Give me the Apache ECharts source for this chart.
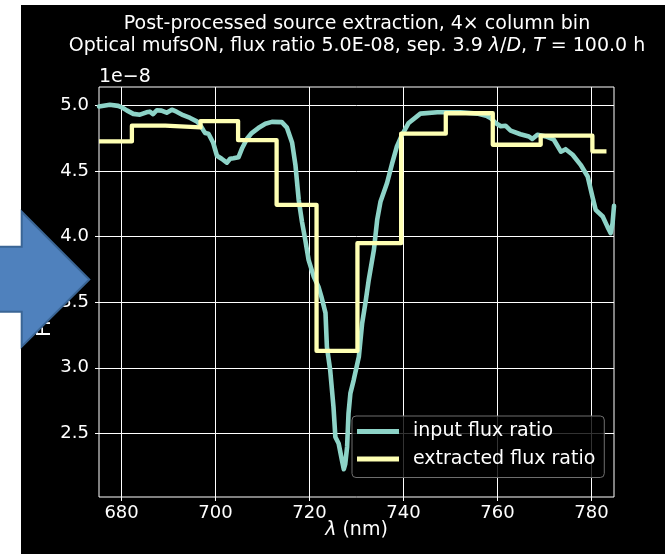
<!DOCTYPE html>
<html>
<head>
<meta charset="utf-8">
<script src="https://cdn.jsdelivr.net/npm/echarts@6/dist/echarts.min.js"></script>
<style>
html,body{margin:0;padding:0;background:#ffffff;}
#chart{width:665px;height:554px;}
</style>
</head>
<body>
<div id="chart"></div>
<script>
// ---- data (flux ratio in units of 1e-8) ----
const inputWavelength = [
 675.2, 677.5, 679.3, 680.3, 681.1, 682.5, 683.9, 685.3, 686.0, 686.7,
 687.5, 688.5, 689.6, 690.7, 691.7, 693.1, 694.6, 696.0, 696.7, 697.4,
 697.8, 698.5, 698.8, 699.5, 700.3, 701.3, 702.4, 703.1, 703.8, 704.9,
 705.6, 706.7, 707.7, 709.1, 710.6, 712.0, 714.1, 715.2, 716.3, 717.0,
 717.7, 718.4, 719.1, 719.8, 720.9, 721.9, 722.6, 723.4, 723.7, 724.4,
 725.1, 725.5, 726.2, 726.9, 727.3, 727.6, 728.0, 728.3, 728.7, 729.4,
 730.5, 731.2, 731.9, 732.6, 733.7, 734.4, 735.1, 736.5, 737.6, 738.6,
 739.7, 741.1, 743.6, 747.2, 752.1, 755.7, 757.8, 758.5, 759.6, 760.7,
 761.7, 762.8, 764.9, 766.7, 767.4, 768.5, 770.3, 772.0, 773.5, 774.5,
 776.0, 777.7, 779.2, 780.2, 780.9, 782.4, 783.4, 784.1, 784.5, 784.8
];
const inputFlux = [
 4.992, 5.005, 4.996, 4.980, 4.962, 4.935, 4.929, 4.947, 4.952, 4.933,
 4.963, 4.960, 4.944, 4.967, 4.952, 4.925, 4.904, 4.878, 4.853, 4.811,
 4.789, 4.784, 4.776, 4.715, 4.616, 4.593, 4.563, 4.593, 4.597, 4.605,
 4.669, 4.746, 4.789, 4.827, 4.860, 4.874, 4.872, 4.830, 4.715, 4.547,
 4.280, 4.112, 3.975, 3.822, 3.695, 3.618, 3.532, 3.418, 3.160, 2.982,
 2.702, 2.473, 2.423, 2.295, 2.227, 2.265, 2.397, 2.652, 2.805, 2.906,
 3.084, 3.339, 3.494, 3.669, 3.898, 4.127, 4.265, 4.408, 4.560, 4.687,
 4.776, 4.866, 4.937, 4.947, 4.947, 4.937, 4.918, 4.904, 4.866, 4.841,
 4.845, 4.807, 4.780, 4.763, 4.744, 4.776, 4.763, 4.738, 4.647, 4.666,
 4.624, 4.547, 4.458, 4.305, 4.204, 4.153, 4.076, 4.026, 4.102, 4.234
];
const binEdges = [675.2, 682.2, 689.3, 696.8, 704.8, 713.0, 721.5, 730.2, 739.5, 749.0, 759.0, 769.2, 780.2, 783.2];
const extractedFlux = [4.725, 4.845, 4.832, 4.880, 4.735, 4.242, 3.128, 3.950, 4.784, 4.940, 4.700, 4.769, 4.650];
const xTicks = [680, 700, 720, 740, 760, 780];
const yTicks = [2.5, 3.0, 3.5, 4.0, 4.5, 5.0];

// ---- build series data ----
const inputData = inputWavelength.map((w, i) => [w, inputFlux[i]]);
const stepData = extractedFlux.map((v, i) => [binEdges[i], v]);
stepData.push([binEdges[binEdges.length - 1], extractedFlux[extractedFlux.length - 1]]);

const FONT = 'DejaVu Sans';
const FS = 19;
const chart = echarts.init(document.getElementById('chart'), null, {renderer: 'canvas'});

const option = {
  backgroundColor: 'transparent',
  animation: false,
  grid: {
    left: 99, top: 87, right: 51, bottom: 57,
    show: true, borderColor: '#ffffff', borderWidth: 1, backgroundColor: 'transparent',
    containLabel: false
  },
  xAxis: {
    type: 'value', min: 675.2, max: 784.8,
    axisLine: {show: false},
    axisTick: {show: true, inside: false, length: 4, lineStyle: {color: '#ffffff', width: 1}, customValues: xTicks},
    axisLabel: {color: '#ffffff', fontFamily: FONT, fontSize: 18, margin: 7, customValues: xTicks,
                formatter: v => String(Math.round(v))},
    splitLine: {show: true, lineStyle: {color: '#ffffff', width: 1}}
  },
  yAxis: {
    type: 'value', min: 2.015, max: 5.14,
    axisLine: {show: false},
    axisTick: {show: true, inside: false, length: 4, lineStyle: {color: '#ffffff', width: 1}, customValues: yTicks},
    axisLabel: {color: '#ffffff', fontFamily: FONT, fontSize: 18, margin: 10, customValues: yTicks,
                formatter: v => v.toFixed(1)},
    splitLine: {show: true, lineStyle: {color: '#ffffff', width: 1}}
  },
  legend: {
    show: true, orient: 'vertical', left: 352, top: 416,
    padding: [6, 9, 9, 5], itemGap: 8.5,
    itemWidth: 42, itemHeight: 5, icon: 'rect',
    backgroundColor: 'rgba(0,0,0,0.8)', borderColor: '#6e6e6e', borderWidth: 1, borderRadius: 4,
    textStyle: {color: '#ffffff', fontFamily: FONT, fontSize: FS, padding: [0, 0, 0, 9]},
    data: ['input flux ratio', 'extracted flux ratio']
  },
  series: [
    {
      name: 'input flux ratio', type: 'line', data: inputData,
      showSymbol: false, symbol: 'none', color: '#8dd3c7',
      lineStyle: {color: '#8dd3c7', width: 4.6, join: 'round', cap: 'round'},
      z: 2
    },
    {
      name: 'extracted flux ratio', type: 'line', data: stepData, step: 'end',
      showSymbol: false, symbol: 'none', color: '#feffb3',
      lineStyle: {color: '#feffb3', width: 4.3, join: 'round', cap: 'butt'},
      z: 3
    }
  ],
  graphic: [
    {type: 'rect', z: -10, silent: true, shape: {x: 21, y: 5, width: 644, height: 549}, style: {fill: '#000000'}},
    {type: 'text', z: 10, style: {text: 'Post-processed source extraction, 4\u00d7 column bin', x: 357, y: 24,
      textAlign: 'center', textVerticalAlign: 'middle', fill: '#ffffff', font: FS + 'px "DejaVu Sans"'}},
    {type: 'text', z: 10, style: {
      text: 'Optical mufsON, flux ratio 5.0E-08, sep. 3.9 {i|\u03bb}/{i|D}, {i|T} = 100.0 h',
      x: 357, y: 46.5, textAlign: 'center', textVerticalAlign: 'middle', fill: '#ffffff',
      font: FS + 'px "DejaVu Sans"',
      rich: {i: {fontStyle: 'italic', fontFamily: FONT, fontSize: FS, fill: '#ffffff', color: '#ffffff'}}
    }},
    {type: 'text', z: 10, style: {text: '1e\u22128', x: 99, y: 77, textAlign: 'left', textVerticalAlign: 'middle',
      fill: '#ffffff', font: FS + 'px "DejaVu Sans"'}},
    {type: 'text', z: 10, style: {text: '{i|\u03bb} (nm)', x: 356.5, y: 530, textAlign: 'center', textVerticalAlign: 'middle',
      fill: '#ffffff', font: FS + 'px "DejaVu Sans"',
      rich: {i: {fontStyle: 'italic', fontFamily: FONT, fontSize: FS, fill: '#ffffff', color: '#ffffff'}}}},
    {type: 'text', z: 10, rotation: Math.PI / 2, x: 45, y: 292, style: {text: 'Flux ratio', x: 0, y: 0,
      textAlign: 'center', textVerticalAlign: 'middle', fill: '#ffffff', font: FS + 'px "DejaVu Sans"'}},
    {type: 'polygon', z: 100, shape: {points: [[-5, 246.7], [21.7, 246.7], [21.7, 211.7], [89.3, 279.5], [21.7, 346.7], [21.7, 311.7], [-5, 311.7]]},
      style: {fill: '#4f81bd', stroke: '#3a6595', lineWidth: 2}}
  ]
};
chart.setOption(option);
</script>
</body>
</html>
